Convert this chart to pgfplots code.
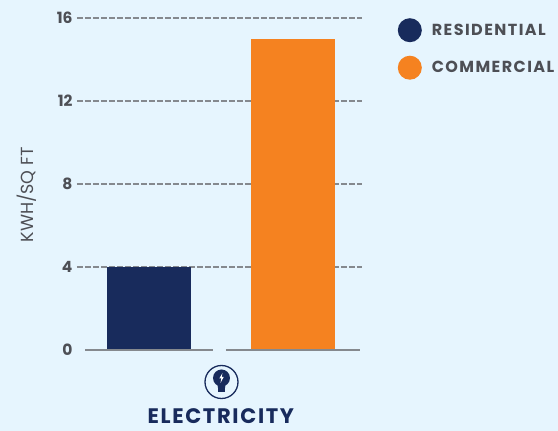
\documentclass[border=0pt]{standalone}
\usepackage{pgfplots}
\pgfplotsset{compat=1.18}
\usepackage{fontspec}
\setmainfont{Poppins}
\definecolor{bg}{HTML}{E6F5FE}
\definecolor{navy}{HTML}{182B5C}
\definecolor{orng}{HTML}{F58220}
\definecolor{txt}{HTML}{4D4F55}
\definecolor{griddash}{HTML}{85898E}
\begin{document}
\begin{tikzpicture}[x=1pt,y=1pt]
  % page is 558x431, origin sits on the lower left corner of the axis box
  \path[use as bounding box, fill=bg] (-77,-81) rectangle (481,350);
  \begin{axis}[
      at={(0,0)}, anchor=south west,
      scale only axis,
      width=285pt, height=332pt,
      ybar, bar width=84pt,
      xmin=-0.502, xmax=1.484,
      ymin=0, ymax=16,
      axis line style={draw=none},
      ytick={4,8,12,16},
      extra y ticks={0},
      extra y tick style={grid=none},
      xtick={0.5}, xticklabels={\bfseries ELECTRICITY},
      x tick label style={font=\fontsize{21}{23}\selectfont\addfontfeatures{LetterSpace=8}, text=navy, yshift=-51pt},
      y tick label style={font=\fontsize{15.5}{17}\selectfont\bfseries, text=txt, xshift=-1pt},
      /pgf/number format/assume math mode=true,
      tick style={draw=none},
      ymajorgrids,
      grid style={griddash, line width=1.3pt, dash pattern=on 6pt off 2pt},
      ylabel={KWH/SQ FT},
      every axis y label/.style={at={(axis description cs:-0.178,0.467)}, rotate=90, anchor=center},
      ylabel style={font=\fontsize{17.5}{19}\selectfont, text=txt},
      legend style={at={(1.1145,1.006)}, anchor=north west, draw=none, fill=none,
        font=\fontsize{16}{18}\selectfont\bfseries\addfontfeatures{LetterSpace=9}, text=txt,
        row sep=13.5pt},
      legend cell align=left,
      legend image code/.code={\fill[#1] (2pt,0pt) circle (12pt);},
      clip=false
    ]
    \addplot[fill=navy, draw=none, bar shift=0pt] coordinates {(0,4)};
    \addplot[fill=orng, draw=none, bar shift=0pt] coordinates {(1,15)};
    \legend{\hspace*{8pt}RESIDENTIAL,\hspace*{8pt}COMMERCIAL}
    % broken base line
    \draw[griddash, line width=1.6pt] (axis cs:-0.446,0) -- (axis cs:0.445,0);
    \draw[griddash, line width=1.6pt] (axis cs:0.535,0) -- (axis cs:1.47,0);
  \end{axis}
  % bulb icon under the bars
  \begin{scope}[shift={(144.5,-32)}]
    \draw[navy, line width=1.3pt] (0,0) circle (16.5pt);
    \fill[navy] (0,4) circle (8.5pt);
    \fill[navy] (-3.5,-6) rectangle (3.5,-10.5);
    \fill[navy] (-4.5,0) -- (4.5,0) -- (3.5,-6) -- (-3.5,-6) -- cycle;
    \fill[white] (1,9) -- (-2.2,3.5) -- (-0.2,3.5) -- (-1,-1) -- (2.2,5) -- (0.2,5) -- cycle;
  \end{scope}
\end{tikzpicture}
\end{document}
